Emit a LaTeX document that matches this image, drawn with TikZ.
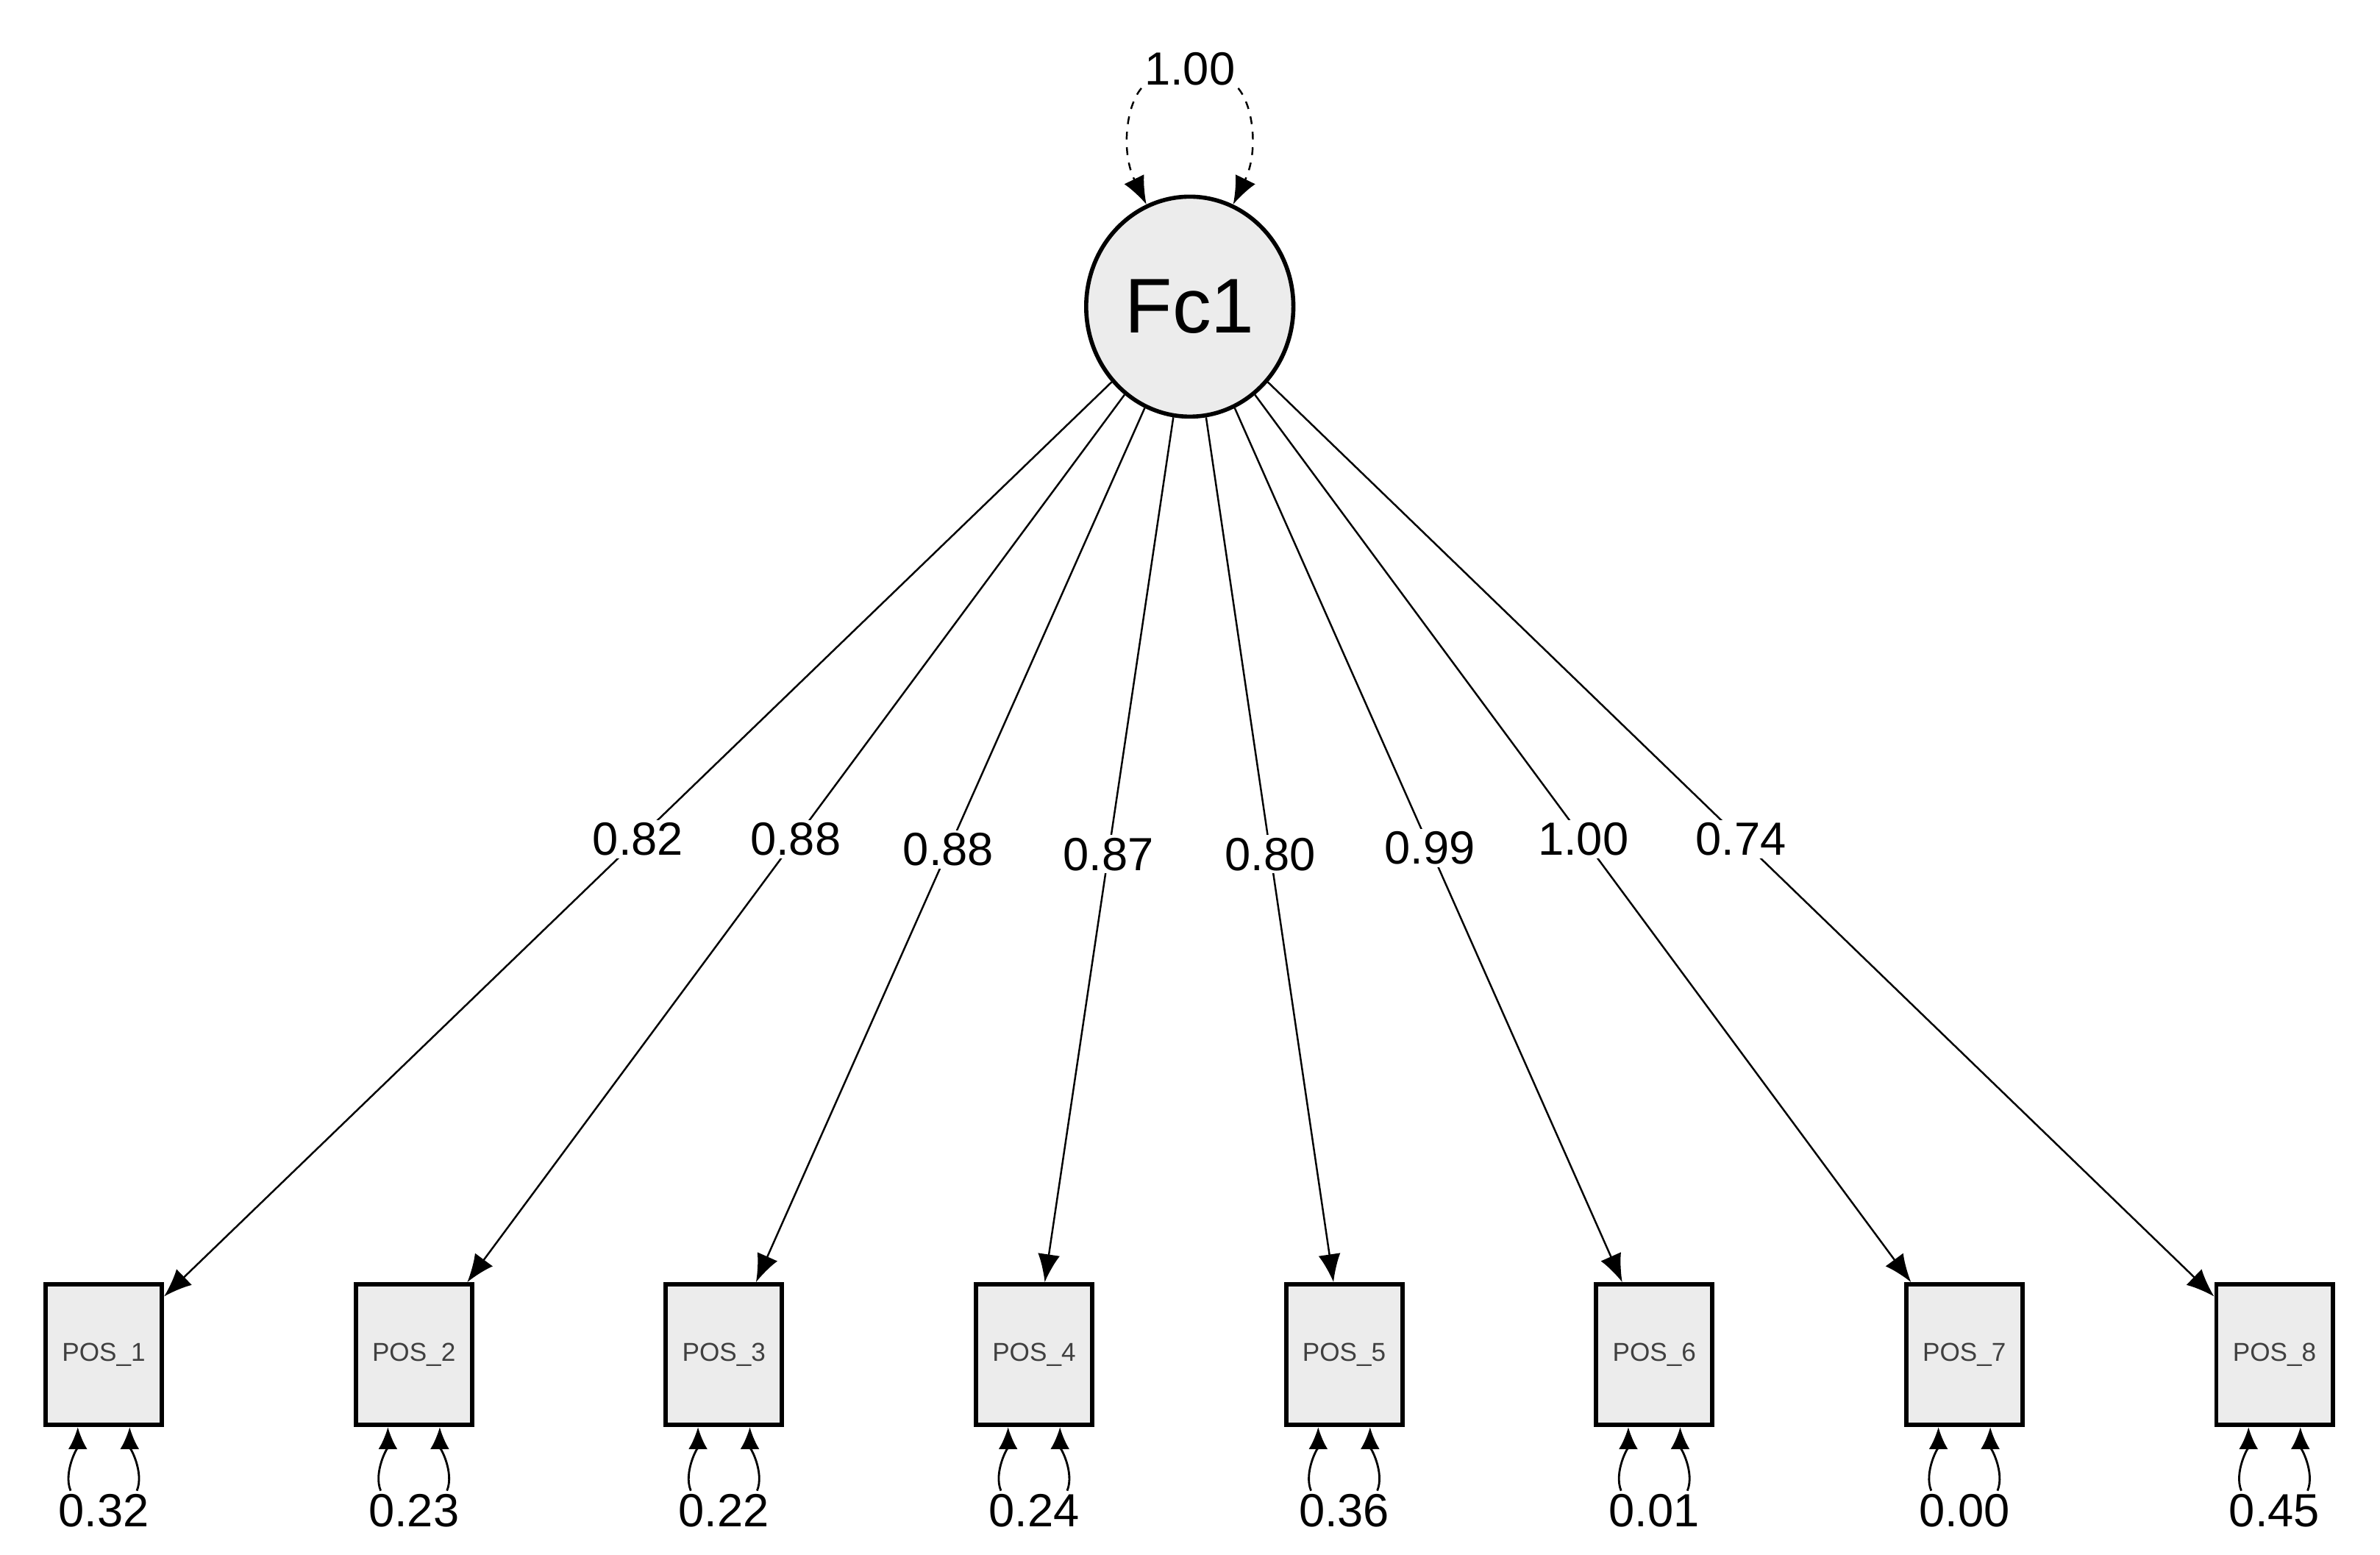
\documentclass[tikz,border=0pt]{standalone}
\usepackage{fontspec}
\setmainfont{Liberation Sans}
\usetikzlibrary{arrows.meta,positioning,calc,shapes.geometric}

\begin{document}
\begin{tikzpicture}[x=0.02074cm, y=-0.02074cm,
            latent/.style={draw, line width=1.6pt, ellipse, fill=gray!15,
                           minimum width=2.61cm, minimum height=2.99cm,
                           font=\fontsize{30}{30}\selectfont},
            manifest/.style={draw, line width=1.7pt, rectangle, fill=gray!15,
                           minimum width=1.58cm, minimum height=1.91cm,
                           font=\fontsize{10}{10}\selectfont, text=black!75},
            coef/.style={font=\fontsize{18}{18}\selectfont, inner sep=1pt},
            load/.style={-{Latex[length=0.38cm, width=0.3cm]}, line width=0.7pt},
            resid/.style={-{Latex[length=0.3cm, width=0.26cm]}, line width=0.8pt}]
        \useasboundingbox (0,0) rectangle (1560.3,1019.3);
        \node[latent] (fc) at (780,201) {Fc1};

        % variance of the factor
        \node[coef] (var) at (780,45) {1.00};
        \draw[load, dashed] (var.south west) .. controls (738,70) and (735,100) .. (fc.113);
        \draw[load, dashed] (var.south east) .. controls (822,70) and (825,100) .. (fc.67);

        \foreach \i/\l/\ly/\r in {1/0.82/550/0.32, 2/0.88/550/0.23, 3/0.88/557/0.22,
                                  4/0.87/560/0.24, 5/0.80/560/0.36, 6/0.99/556/0.01,
                                  7/1.00/550/0.00, 8/0.74/550/0.45} {
            \node[manifest] (p\i) at ({68+203.3*(\i-1)},888) {POS\_\i};
            \draw[load] (fc) -- (p\i);
            \path (fc.center) -- (p\i.center)
                node[coef, fill=white, pos={(\ly-201)/687}] (l\i) {\l};
            % error variance
            \node[coef] (e\i) at ({68+203.3*(\i-1)},990) {\r};
            \draw[resid] (e\i.north west) ++(10,0) .. controls +(-5,-12) and +(0,12) ..
                ($(p\i.south)+(-17,0)$);
            \draw[resid] (e\i.north east) ++(-10,0) .. controls +(5,-12) and +(0,12) ..
                ($(p\i.south)+(17,0)$);
        }
\end{tikzpicture}
\end{document}
